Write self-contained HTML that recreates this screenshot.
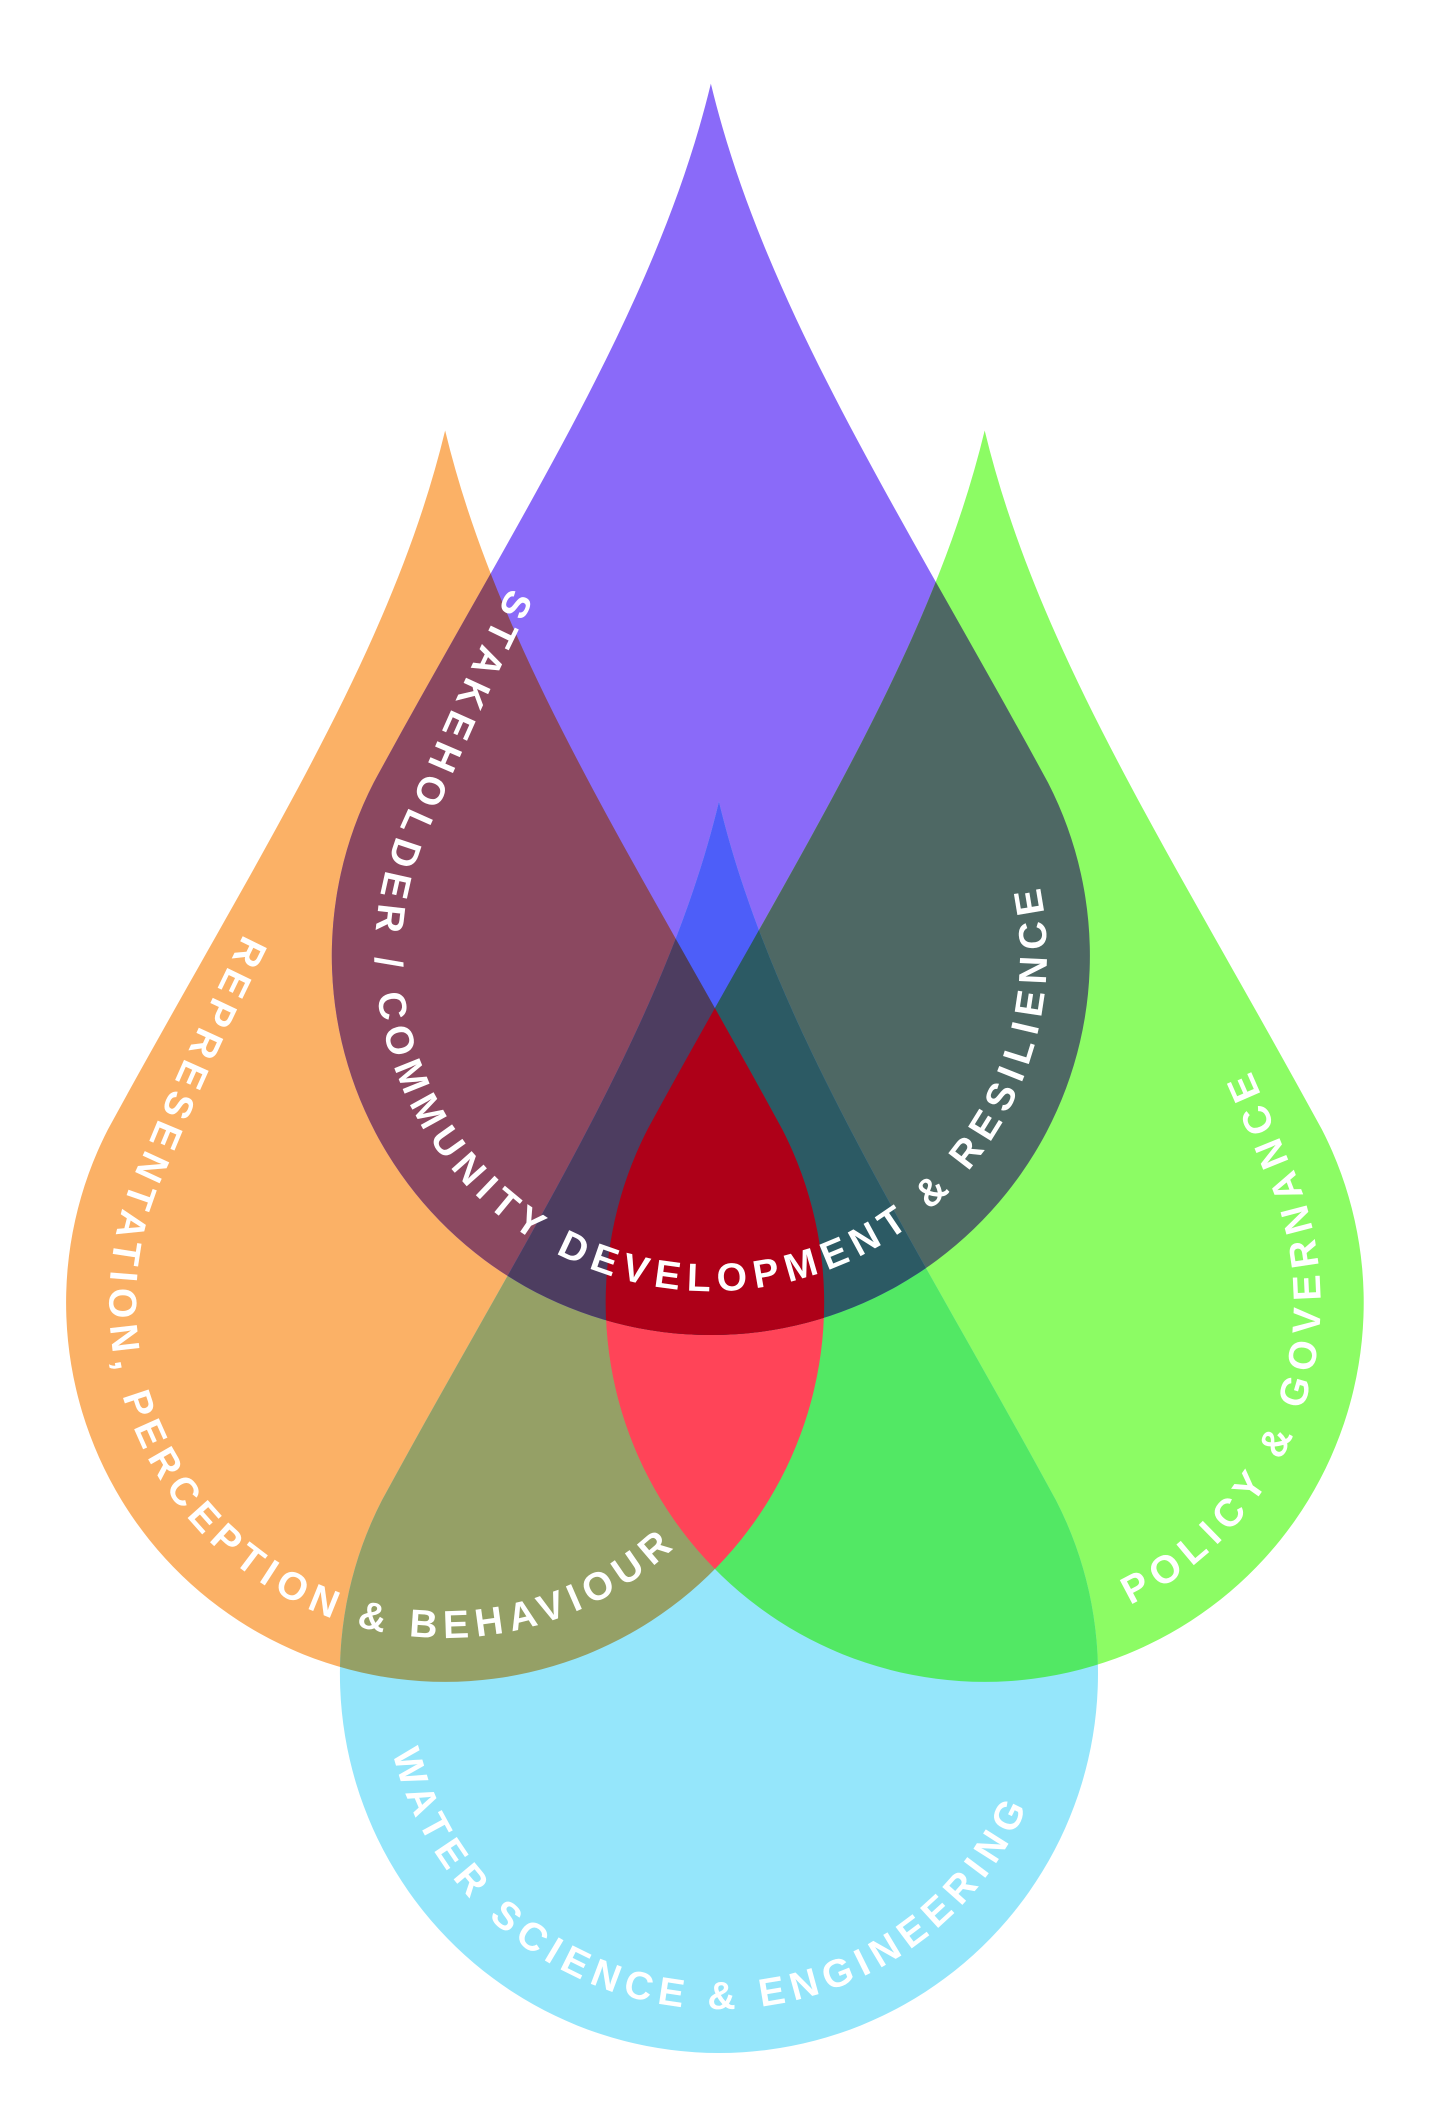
<!DOCTYPE html>
<html><head><meta charset="utf-8"><style>
html,body{margin:0;padding:0;background:#fff;}
svg{display:block;}
text{font-family:"Liberation Sans",sans-serif;font-weight:bold;fill:#fff;font-size:29px;}
</style></head><body>
<svg width="1446" height="2116" viewBox="0 0 1072 1568" preserveAspectRatio="none" xmlns="http://www.w3.org/2000/svg" xmlns:xlink="http://www.w3.org/1999/xlink">
<defs>
<path id="d" d="M0,-646 C-40,-480 -140,-330 -250,-128 A281 281 0 1 0 250,-128 C140,-330 40,-480 0,-646 Z"/>
<clipPath id="cO"><use xlink:href="#d" transform="translate(330,965)"/></clipPath>
<clipPath id="cP"><use xlink:href="#d" transform="translate(527,708)"/></clipPath>
<clipPath id="cG"><use xlink:href="#d" transform="translate(730,965)"/></clipPath>
<path id="tP" transform="translate(527,708)" d="M0,-600 C-50,-440 -142,-310 -222,-113 A249 249 0 1 0 222,-113 C142,-310 50,-440 0,-600"/>
<path id="tO" transform="translate(330,965)" d="M0,-600 C-50,-440 -142,-310 -222,-113 A249 249 0 1 0 222,-113 C142,-310 50,-440 0,-600"/>
<path id="tG" transform="translate(730,965)" d="M0,-600 C-50,-440 -142,-310 -222,-113 A249 249 0 1 0 222,-113 C142,-310 50,-440 0,-600"/>
<path id="tB" transform="translate(533,1240)" d="M0,-600 C-50,-440 -142,-310 -222,-113 A249 249 0 1 0 222,-113 C142,-310 50,-440 0,-600"/>
</defs>
<rect width="1072" height="1568" fill="#fff"/>
<use xlink:href="#d" transform="translate(330,965)" fill="#FBB166"/>
<use xlink:href="#d" transform="translate(527,708)" fill="#8A6AF9"/>
<use xlink:href="#d" transform="translate(730,965)" fill="#8CFC64"/>
<use xlink:href="#d" transform="translate(533,1240)" fill="#95E6FB"/>
<g clip-path="url(#cO)"><use xlink:href="#d" transform="translate(527,708)" fill="#8B4860"/></g>
<g clip-path="url(#cG)"><use xlink:href="#d" transform="translate(527,708)" fill="#4E6864"/></g>
<g clip-path="url(#cO)"><use xlink:href="#d" transform="translate(533,1240)" fill="#95A066"/></g>
<g clip-path="url(#cG)"><use xlink:href="#d" transform="translate(533,1240)" fill="#52E864"/></g>
<g clip-path="url(#cP)"><use xlink:href="#d" transform="translate(533,1240)" fill="#4D5EF9"/></g>
<g clip-path="url(#cO)"><use xlink:href="#d" transform="translate(730,965)" fill="#FF4458"/></g>
<g clip-path="url(#cO)"><g clip-path="url(#cP)"><use xlink:href="#d" transform="translate(533,1240)" fill="#4D3D60"/></g></g>
<g clip-path="url(#cG)"><g clip-path="url(#cP)"><use xlink:href="#d" transform="translate(533,1240)" fill="#2C5A64"/></g></g>
<g clip-path="url(#cO)"><g clip-path="url(#cP)"><use xlink:href="#d" transform="translate(730,965)" fill="#AE0018"/></g></g>
<text><textPath xlink:href="#tP" startOffset="360" textLength="1125" lengthAdjust="spacing">STAKEHOLDER / COMMUNITY DEVELOPMENT &amp; RESILIENCE</textPath></text>
<text><textPath xlink:href="#tO" startOffset="360" textLength="870" lengthAdjust="spacing">REPRESENTATION, PERCEPTION &amp; BEHAVIOUR</textPath></text>
<text><textPath xlink:href="#tG" startOffset="1155" textLength="460" lengthAdjust="spacing">POLICY &amp; GOVERNANCE</textPath></text>
<text><textPath xlink:href="#tB" startOffset="712" textLength="620" lengthAdjust="spacing">WATER SCIENCE &amp; ENGINEERING</textPath></text>
</svg>
</body></html>
